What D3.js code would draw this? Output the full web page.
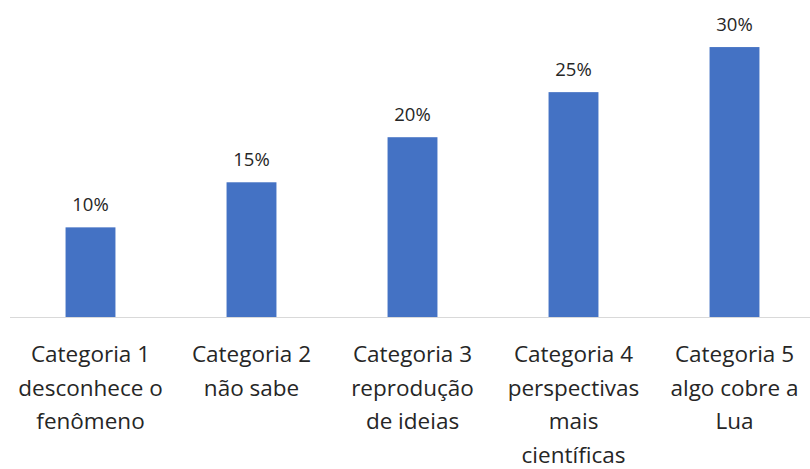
<!DOCTYPE html>
<html>
<head>
<meta charset="utf-8">
<script src="https://cdn.jsdelivr.net/npm/d3@7"></script>
<style>
  html, body { margin: 0; padding: 0; background: #fff; }
  svg { display: block; }
</style>
</head>
<body>
<svg id="chart" width="810" height="469"></svg>
<script>
var categories = ["c1", "c2", "c3", "c4", "c5"];
var tickLabels = [
  ["Categoria 1", "desconhece o", "fenômeno"],
  ["Categoria 2", "não sabe"],
  ["Categoria 3", "reprodução", "de ideias"],
  ["Categoria 4", "perspectivas", "mais", "científicas"],
  ["Categoria 5", "algo cobre a", "Lua"]
];
var values = [10, 15, 20, 25, 30];
var valueLabels = ["10%", "15%", "20%", "25%", "30%"];

var svg = d3.select("#chart"),
    font = "'Open Sans', 'Noto Sans', sans-serif";

var x = d3.scaleBand()
  .domain(categories)
  .range([10, 815])
  .paddingInner(0.69)
  .paddingOuter(0.345);

var y = d3.scaleLinear()
  .domain([0, 35])
  .range([317.5, 2]);

// bars
svg.selectAll("rect.bar")
  .data(values)
  .enter().append("rect")
  .attr("class", "bar")
  .attr("x", function (d, i) { return x(categories[i]); })
  .attr("y", function (d) { return y(d); })
  .attr("width", x.bandwidth())
  .attr("height", function (d) { return y(0) - y(d); })
  .style("fill", "#4472C4");

// baseline
svg.append("line")
  .attr("x1", 10).attr("x2", 810)
  .attr("y1", y(0)).attr("y2", y(0))
  .style("stroke", "#D9D9D9")
  .style("stroke-width", "1px");

// value labels
svg.selectAll("text.val")
  .data(values)
  .enter().append("text")
  .attr("class", "val")
  .attr("x", function (d, i) { return x(categories[i]) + x.bandwidth() / 2; })
  .attr("y", function (d) { return y(d) - 16; })
  .attr("text-anchor", "middle")
  .style("font-family", font)
  .style("font-size", "18.5px")
  .style("fill", "#262626")
  .text(function (d, i) { return valueLabels[i]; });

// category labels, one tspan per line
var labels = svg.selectAll("text.cat")
  .data(tickLabels)
  .enter().append("text")
  .attr("class", "cat")
  .attr("text-anchor", "middle")
  .style("font-family", font)
  .style("font-size", "22.5px")
  .style("fill", "#262626");

labels.each(function (lines, i) {
  var t = d3.select(this),
      cx = x(categories[i]) + x.bandwidth() / 2;
  lines.forEach(function (line, j) {
    t.append("tspan")
      .attr("x", cx)
      .attr("y", 362 + j * 33.5)
      .text(line);
  });
});
</script>
</body>
</html>
